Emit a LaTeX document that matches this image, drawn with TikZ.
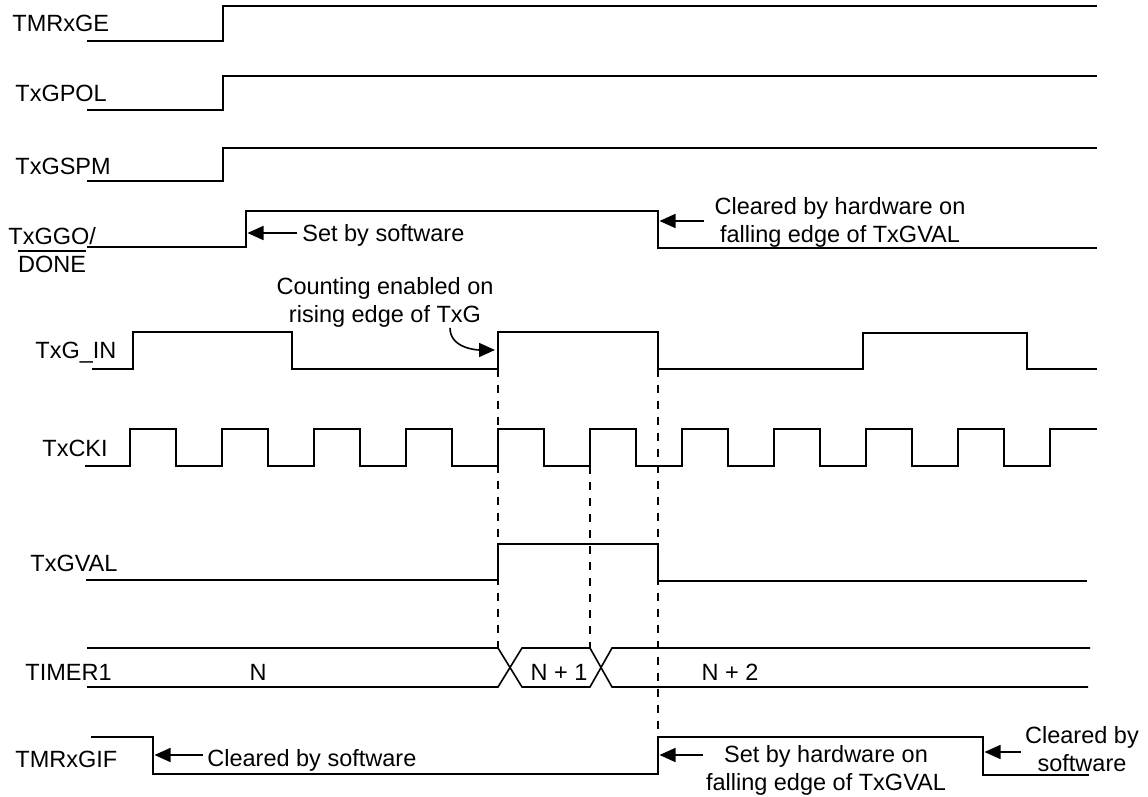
\documentclass[tikz,border=0pt]{standalone}
\usepackage{fontspec}
\setmainfont{Liberation Sans}
\usetikzlibrary{arrows.meta}

\begin{document}
\begin{tikzpicture}[x=0.5pt, y=-0.5pt,
  sig/.style={line width=0.8pt, line join=miter},
  guide/.style={line width=0.8pt, dash pattern=on 4pt off 4pt},
  note/.style={line width=0.8pt, -{Triangle[length=8pt,width=7pt]}},
  lbl/.style={inner sep=0pt, font=\fontsize{11.75}{14}\selectfont}]

  \useasboundingbox (0,0) rectangle (1148,797);

  % signal names
  \node[lbl, anchor=base west] (ge)   at (12,32)  {TMRxGE};
  \node[lbl, anchor=base west] (pol)  at (15,102) {TxGPOL};
  \node[lbl, anchor=base west] (spm)  at (15,175) {TxGSPM};
  \node[lbl, anchor=base west] (ggo)  at (8,245)  {TxGGO/};
  \node[lbl, anchor=base]      (done) at (52,273) {DONE};
  \draw[sig] ([yshift=2.5pt]done.north west) -- ([yshift=2.5pt]done.north east);
  \node[lbl, anchor=base west] (gin)  at (35,358) {TxG\_IN};
  \node[lbl, anchor=base west] (cki)  at (42,457) {TxCKI};
  \node[lbl, anchor=base west] (gval) at (30,571) {TxGVAL};
  \node[lbl, anchor=base west] (tmr)  at (25,680) {TIMER1};
  \node[lbl, anchor=base west] (gif)  at (15,767) {TMRxGIF};

  % control bits
  \draw[sig] (87,41)  -- (223,41)  -- (223,6)   -- (1097,6);
  \draw[sig] (87,110) -- (223,110) -- (223,76)  -- (1097,76);
  \draw[sig] (87,181) -- (223,181) -- (223,148) -- (1097,148);
  \draw[sig] (87,247) -- (246,247) -- (246,211) -- (658,211) -- (658,248) -- (1097,248);

  % gate input
  \draw[sig] (92,369) -- (133,369) -- (133,332) -- (292,332) -- (292,369)
    -- (498,369) -- (498,332) -- (658,332) -- (658,369)
    -- (863,369) -- (863,333) -- (1027,333) -- (1027,369) -- (1097,369);

  % clock
  \draw[sig] (85,466)
    \foreach \k in {0,...,9} {
      -- ({130+92*\k},466) -- ({130+92*\k},429) -- ({176+92*\k},429) -- ({176+92*\k},466)
    }
    -- (1050,466) -- (1050,429) -- (1097,429);

  % gate valid
  \draw[sig] (86,580) -- (498,580) -- (498,544) -- (658,544) -- (658,581) -- (1087,581);

  % timer value
  \draw[sig] (87,648) -- (498,648) -- (522,687) -- (590,687) -- (612,648) -- (1090,648);
  \draw[sig] (87,687) -- (498,687) -- (522,648) -- (590,648) -- (612,687) -- (1088,687);
  \node[lbl, anchor=base] (vn)  at (258,680) {N};
  \node[lbl, anchor=base] (vn1) at (559,680) {N + 1};
  \node[lbl, anchor=base] (vn2) at (730,680) {N + 2};

  % interrupt flag
  \draw[sig] (91,737) -- (153,737) -- (153,774) -- (658,774) -- (658,737)
    -- (983,737) -- (983,775) -- (1089,775);

  % timing guides
  \draw[guide] (498,369) -- (498,648);
  \draw[guide] (590,466) -- (590,648);
  \draw[guide] (658,369) -- (658,737);

  % edge points
  \coordinate (ggo-rise)  at (246,233);
  \coordinate (ggo-fall)  at (658,221);
  \coordinate (txg-rise)  at (498,350);
  \coordinate (gif-fall0) at (153,755);
  \coordinate (gif-rise)  at (658,755);
  \coordinate (gif-fall)  at (983,752);

  % notes
  \node[lbl, anchor=base west] (setsw) at (302,242) {Set by software};
  \node[lbl, align=center] (clrhw) at (840,222) {Cleared by hardware on\\falling edge of TxGVAL};
  \node[lbl, align=center] (cnt) at (385,302.5) {Counting enabled on\\rising edge of TxG};
  \node[lbl, anchor=base west] (clrsw) at (207,766) {Cleared by software};
  \node[lbl, align=center] (sethw) at (826,770) {Set by hardware on\\falling edge of TxGVAL};
  \node[lbl, align=center] (clrsw2) at (1082,749.5) {Cleared by\\software};

  \draw[note, shorten <=2.5pt, shorten >=0.75pt] (setsw.west |- ggo-rise) -- (ggo-rise);
  \draw[note, shorten <=5pt, shorten >=0.75pt] (clrhw.west |- ggo-fall) -- (ggo-fall);
  \draw[note, shorten >=1.5pt] ([xshift=32.5pt]cnt.south) to[out=-90, in=180] (txg-rise);
  \draw[note, shorten <=2pt, shorten >=0.75pt] (clrsw.west |- gif-fall0) -- (gif-fall0);
  \draw[note, shorten <=1.5pt, shorten >=0.75pt] (sethw.west |- gif-rise) -- (gif-rise);
  \draw[note, shorten <=2pt, shorten >=0.75pt] (clrsw2.west |- gif-fall) -- (gif-fall);

\end{tikzpicture}
\end{document}
